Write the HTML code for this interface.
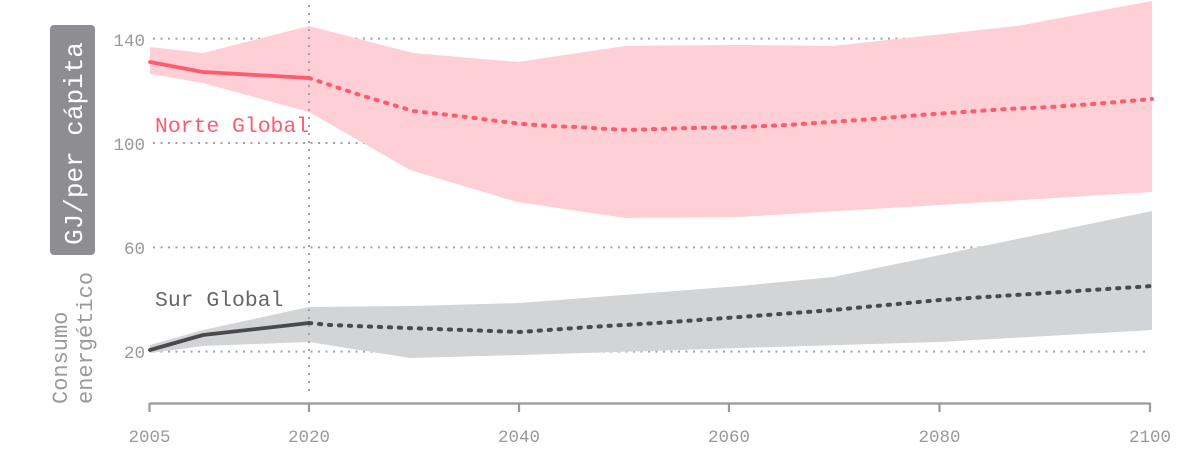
<!DOCTYPE html>
<html>
<head>
<meta charset="utf-8">
<style>
  html,body{margin:0;padding:0;background:#fff;}
  svg{display:block;}
  text{font-family:"Liberation Mono","DejaVu Sans Mono",monospace;}
</style>
</head>
<body>
<svg width="1201" height="449" viewBox="0 0 1201 449" xmlns="http://www.w3.org/2000/svg">
  <!-- horizontal grid -->
  <g stroke="#a3a3a3" stroke-width="2" stroke-dasharray="2 5.5" fill="none">
    <line x1="153" y1="38.6" x2="1150" y2="38.6"/>
    <line x1="153" y1="143" x2="1150" y2="143"/>
    <line x1="153" y1="247.4" x2="1150" y2="247.4"/>
    <line x1="153" y1="351.6" x2="1150" y2="351.6"/>
  </g>

  <!-- pink band -->
  <polygon fill="#fecfd4" points="150,47 203,53 309,26 413,53 518,62 625,46 740,45 833,46 1017,26 1152,1 1152,192 940,205 740,217 625,218 517,202 410,170 309,112 203,83 150,74"/>
  <!-- gray band -->
  <polygon fill="#d3d4d6" points="150,345 203,330 309,307 413,306 520,303 740,286 833,277 940,255 1152,211 1152,330 940,342 740,348 650,351 520,355 410,358 309,342 203,346 150,353"/>

  <!-- vertical 2020 dotted line -->
  <line x1="309" y1="5" x2="309" y2="392" stroke="#a3a3a3" stroke-width="2" stroke-dasharray="2 6"/>

  <!-- pink median -->
  <polyline fill="none" stroke="#ff5b6e" stroke-width="3.8" stroke-linejoin="round" stroke-linecap="round" points="150,62 203,72 309,78"/>
  <polyline fill="none" stroke="#ff5b6e" stroke-width="4" stroke-linejoin="round" stroke-linecap="round" stroke-dasharray="2.2 7.8" points="309,78 333,86 360,95 390,104 413,111 440,114 467,117 497,121 523,124 550,126 577,127 607,129 630,130 657,129 690,128 743,127 787,125 830,122 873,119 920,115 963,112 1007,109 1050,107 1093,104 1152,99"/>

  <!-- gray median -->
  <polyline fill="none" stroke="#4a4a4c" stroke-width="3.8" stroke-linejoin="round" stroke-linecap="round" points="150,350 203,335 309,323"/>
  <polyline fill="none" stroke="#4a4a4c" stroke-width="4" stroke-linejoin="round" stroke-linecap="round" stroke-dasharray="2.2 7.8" points="309,323 330,325 407,328 520,332 590,327 657,323 740,317 833,310 940,300 1152,286"/>

  <!-- x axis -->
  <g stroke="#999" stroke-width="2.2" fill="none">
    <line x1="149.5" y1="403.5" x2="1150.5" y2="403.5"/>
    <line x1="149.5" y1="403" x2="149.5" y2="412"/>
    <line x1="309" y1="403" x2="309" y2="412"/>
    <line x1="519" y1="403" x2="519" y2="412"/>
    <line x1="729" y1="403" x2="729" y2="412"/>
    <line x1="939.5" y1="403" x2="939.5" y2="412"/>
    <line x1="1150" y1="403" x2="1150" y2="412"/>
  </g>
  <g fill="#999" font-size="17.5" text-anchor="middle">
    <text x="149.5" y="442">2005</text>
    <text x="309" y="442">2020</text>
    <text x="519" y="442">2040</text>
    <text x="729" y="442">2060</text>
    <text x="939.5" y="442">2080</text>
    <text x="1150" y="442">2100</text>
  </g>

  <!-- y tick labels -->
  <g fill="#999" font-size="17.5" text-anchor="end">
    <text x="145" y="46">140</text>
    <text x="145" y="150">100</text>
    <text x="145" y="254">60</text>
    <text x="145" y="358">20</text>
  </g>

  <!-- y axis title box -->
  <rect x="50" y="25" width="45" height="230" rx="4" ry="4" fill="#8e8e92"/>
  <text transform="translate(82,143.5) rotate(-90)" text-anchor="middle" fill="#fff" font-size="26">GJ/per cápita</text>

  <!-- consumo energético -->
  <text transform="translate(67,404) rotate(-90)" fill="#9a9a9a" font-size="22">Consumo</text>
  <text transform="translate(92,404) rotate(-90)" fill="#9a9a9a" font-size="22">energético</text>

  <!-- series labels -->
  <text x="155" y="132" fill="#ff5b6e" font-size="21.4">Norte Global</text>
  <text x="155" y="306" fill="#666" font-size="21.4">Sur Global</text>
</svg>
</body>
</html>
